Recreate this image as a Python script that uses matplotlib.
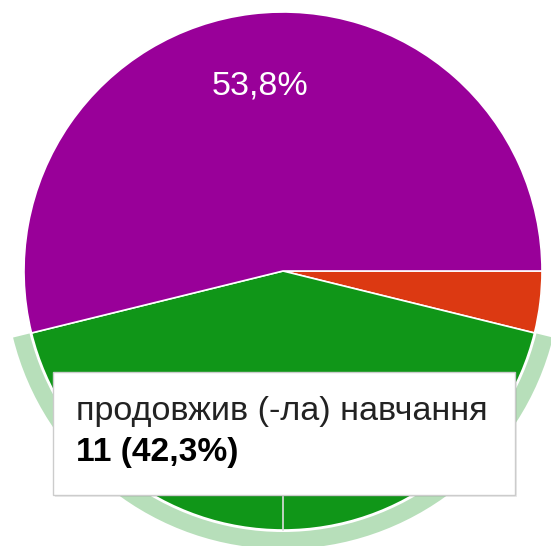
#!/usr/bin/env python3
"""Pie chart of survey answers with the hovered slice tooltip (Google Forms style)."""

import math

import matplotlib
matplotlib.use("Agg")
import matplotlib.pyplot as plt
from matplotlib.patches import Rectangle, Wedge

# answers, in drawing order (clockwise from 3 o'clock)
labels = ["інше", "продовжив (-ла) навчання", "працює"]
counts = [1, 11, 14]
colors = ["#dc3912", "#109618", "#990099"]
highlight = 1  # slice under the mouse

W, H = 551, 546
cx, cy, r = 283, H - 271, 259

plt.rcParams["font.family"] = ["Liberation Sans", "DejaVu Sans"]

total = sum(counts)
pcts = [c / total * 100 for c in counts]


def fmt_pct(p):
    return f"{p:.1f}%".replace(".", ",")


fig = plt.figure(figsize=(W / 100, H / 100), dpi=100)
ax = fig.add_axes([0, 0, 1, 1])

wedges, _ = ax.pie(
    counts,
    colors=colors,
    startangle=0,
    counterclock=False,
    center=(cx, cy),
    radius=r,
    wedgeprops=dict(edgecolor="white", linewidth=1.2),
)

# percentage label only where the slice is large enough
for w, p in zip(wedges, pcts):
    if p < 50:
        continue
    mid = math.radians((w.theta1 + w.theta2) / 2)
    tx = cx + 0.72 * r * math.cos(mid)
    ty = cy + 0.72 * r * math.sin(mid)
    ax.text(tx, ty, fmt_pct(p), color="white", fontsize=24.5,
            ha="center", va="center")

# hover ring around highlighted slice
hw = wedges[highlight]
ring = Wedge((cx, cy), r + 19, hw.theta1, hw.theta2, width=17,
             facecolor="#b7dfba", edgecolor="none")
ax.add_patch(ring)

# tooltip box
tx0, ty0, tx1, ty1 = 53, H - 495, 515, H - 372
ax.plot([cx, cx], [cy - r, ty0], color="#dddddd", lw=1.2, zorder=3)
shadow = Rectangle((tx0 + 2, ty0 - 2), tx1 - tx0, ty1 - ty0,
                   facecolor="#000000", alpha=0.08, edgecolor="none", zorder=4)
ax.add_patch(shadow)
box = Rectangle((tx0, ty0), tx1 - tx0, ty1 - ty0,
                facecolor="white", edgecolor="#cccccc", lw=1, zorder=5)
ax.add_patch(box)
ax.text(76, H - 420, labels[highlight], fontsize=24.6, color="#222222",
        va="baseline", ha="left", zorder=6)
ax.text(76, H - 461, f"{counts[highlight]} ({fmt_pct(pcts[highlight])})",
        fontsize=24.2, fontweight="bold", color="#000000",
        va="baseline", ha="left", zorder=6)

ax.set_xlim(0, W)
ax.set_ylim(0, H)
ax.set_aspect("equal")
ax.axis("off")

fig.savefig("out.png", dpi=100)
